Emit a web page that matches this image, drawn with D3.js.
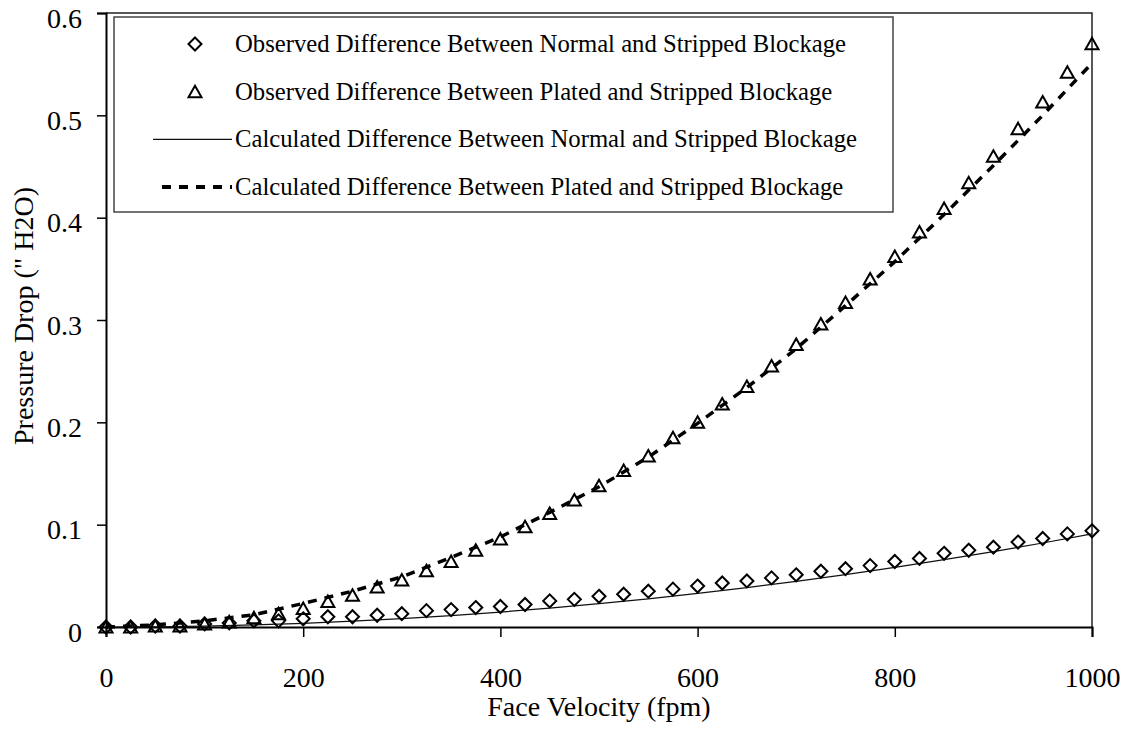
<!DOCTYPE html>
<html>
<head>
<meta charset="utf-8">
<script src="https://cdn.jsdelivr.net/npm/d3@7"></script>
<style>
  body { margin: 0; background: #fff; }
  svg text { font-family: "Liberation Serif", "Times New Roman", serif; fill: #000; }
</style>
</head>
<body>
<svg id="chart" width="1134" height="731"></svg>
<script>
// observed points, every 25 fpm
const velObs = [0, 25, 50, 75, 100, 125, 150, 175, 200, 225, 250, 275, 300, 325, 350, 375, 400,
  425, 450, 475, 500, 525, 550, 575, 600, 625, 650, 675, 700, 725, 750, 775, 800,
  825, 850, 875, 900, 925, 950, 975, 1000];
const normalObs = [0, 0, 0.001, 0.001, 0.003, 0.004, 0.006, 0.006, 0.008, 0.010, 0.010, 0.0115, 0.013,
  0.016, 0.017, 0.019, 0.020, 0.022, 0.0255, 0.027, 0.030, 0.032, 0.035, 0.037, 0.040,
  0.043, 0.045, 0.048, 0.051, 0.0545, 0.057, 0.060, 0.064, 0.067, 0.072, 0.075, 0.078,
  0.083, 0.0865, 0.091, 0.094];
const platedObs = [0, 0, 0.001, 0.001, 0.003, 0.005, 0.009, 0.013, 0.018, 0.025, 0.031, 0.039, 0.046,
  0.055, 0.064, 0.075, 0.086, 0.098, 0.111, 0.124, 0.138, 0.153, 0.167, 0.185, 0.200,
  0.218, 0.235, 0.255, 0.276, 0.296, 0.317, 0.340, 0.362, 0.386, 0.409, 0.434, 0.460,
  0.487, 0.513, 0.542, 0.570];

// calculated curves, every 50 fpm
const velCalc = [0, 50, 100, 150, 200, 250, 300, 350, 400, 450, 500, 550, 600, 650, 700, 750, 800,
  850, 900, 950, 1000];
const normalCalc = [0, 0.0002, 0.0009, 0.002, 0.0036, 0.0057, 0.0082, 0.0111, 0.0146, 0.0184, 0.0228,
  0.0275, 0.0328, 0.0385, 0.0446, 0.0512, 0.0582, 0.0658, 0.0737, 0.0821, 0.091];
const platedCalc = [0, 0.002, 0.006, 0.012, 0.023, 0.035, 0.049, 0.068, 0.088, 0.112, 0.137,
  0.166, 0.199, 0.234, 0.272, 0.314, 0.357, 0.403, 0.451, 0.500, 0.551];

const xTicks = [0, 200, 400, 600, 800, 1000];
const yTicks = [0, 0.1, 0.2, 0.3, 0.4, 0.5, 0.6];
const legendLabels = [
  "Observed Difference Between Normal and Stripped Blockage",
  "Observed Difference Between Plated and Stripped Blockage",
  "Calculated Difference Between Normal and Stripped Blockage",
  "Calculated Difference Between Plated and Stripped Blockage"
];

const svg = d3.select("#chart");
const plot = { left: 106, right: 1092, top: 13, bottom: 627 };
const serif = '"Liberation Serif", "Times New Roman", serif';

const x = d3.scaleLinear().domain([0, 1000]).range([plot.left, plot.right]);
const y = d3.scaleLinear().domain([0, 0.6]).range([plot.bottom, plot.top]);

// marker shapes
const diamondPath = "M0,-6.5L6.5,0L0,6.5L-6.5,0Z";
const trianglePath = "M0,-6L6.5,5.5L-6.5,5.5Z";

// plot frame (top and right)
svg.append("path")
  .attr("d", `M${plot.left},${plot.top}H${plot.right}V${plot.bottom}`)
  .attr("fill", "none")
  .attr("stroke", "#222")
  .attr("stroke-width", 1.5);

// axes
const xAxis = svg.append("g")
  .attr("transform", `translate(0,${plot.bottom})`)
  .call(d3.axisBottom(x).tickValues(xTicks).tickSize(10).tickPadding(30).tickFormat(d3.format("d")));
const yAxis = svg.append("g")
  .attr("transform", `translate(${plot.left},0)`)
  .call(d3.axisLeft(y).tickValues(yTicks).tickSize(9).tickPadding(15).tickFormat(d => d === 0 ? "0" : d3.format(".1f")(d)));

[xAxis, yAxis].forEach(g => {
  g.attr("font-family", serif).attr("font-size", 28);
  g.select(".domain").attr("stroke", "#000").attr("stroke-width", 2);
  g.selectAll(".tick line").attr("stroke", "#000").attr("stroke-width", 1.5);
  g.selectAll(".tick text")
    .style("font-family", serif)
    .style("font-size", "28px")
    .attr("fill", "#000");
});
yAxis.selectAll(".tick text").attr("dy", "0.5em");

// axis titles
svg.append("text")
  .attr("x", (plot.left + plot.right) / 2)
  .attr("y", 716)
  .attr("text-anchor", "middle")
  .style("font-size", "28px")
  .text("Face Velocity (fpm)");

svg.append("text")
  .attr("transform", "translate(33,316) rotate(-90)")
  .attr("text-anchor", "middle")
  .style("font-size", "28px")
  .text("Pressure Drop (\" H2O)");

// calculated lines
const line = (xs, ys) => d3.line().x((d, i) => x(xs[i])).y((d, i) => y(ys[i]))(ys);

svg.append("path")
  .attr("d", line(velCalc, normalCalc))
  .attr("fill", "none")
  .attr("stroke", "#111")
  .attr("stroke-width", 1.2);

svg.append("path")
  .attr("d", line(velCalc, platedCalc))
  .attr("fill", "none")
  .attr("stroke", "#000")
  .attr("stroke-width", 3.5)
  .attr("stroke-dasharray", "9,8");

// observed markers
svg.append("g").selectAll("path")
  .data(normalObs)
  .join("path")
  .attr("d", diamondPath)
  .attr("transform", (d, i) => `translate(${x(velObs[i])},${y(d)})`)
  .attr("fill", "none")
  .attr("stroke", "#000")
  .attr("stroke-width", 2);

svg.append("g").selectAll("path")
  .data(platedObs)
  .join("path")
  .attr("d", trianglePath)
  .attr("transform", (d, i) => `translate(${x(velObs[i])},${y(d)})`)
  .attr("fill", "none")
  .attr("stroke", "#000")
  .attr("stroke-width", 2);

// legend
const legend = svg.append("g");
legend.append("rect")
  .attr("x", 114).attr("y", 17)
  .attr("width", 779).attr("height", 195)
  .attr("fill", "#fff")
  .attr("stroke", "#444")
  .attr("stroke-width", 1.5);

const rowY = i => 44 + i * 47.7;

legendLabels.forEach((label, i) => {
  legend.append("text")
    .attr("x", 235)
    .attr("y", rowY(i) + 8)
    .style("font-size", "24.7px")
    .text(label);
});

legend.append("path")
  .attr("d", diamondPath)
  .attr("transform", `translate(195,${rowY(0)})`)
  .attr("fill", "none").attr("stroke", "#000").attr("stroke-width", 2);
legend.append("path")
  .attr("d", trianglePath)
  .attr("transform", `translate(195,${rowY(1)})`)
  .attr("fill", "none").attr("stroke", "#000").attr("stroke-width", 2);
legend.append("line")
  .attr("x1", 153).attr("x2", 232)
  .attr("y1", rowY(2)).attr("y2", rowY(2))
  .attr("stroke", "#111").attr("stroke-width", 1.2);
legend.append("line")
  .attr("x1", 162).attr("x2", 232)
  .attr("y1", rowY(3)).attr("y2", rowY(3))
  .attr("stroke", "#000").attr("stroke-width", 4)
  .attr("stroke-dasharray", "9,8");
</script>
</body>
</html>
